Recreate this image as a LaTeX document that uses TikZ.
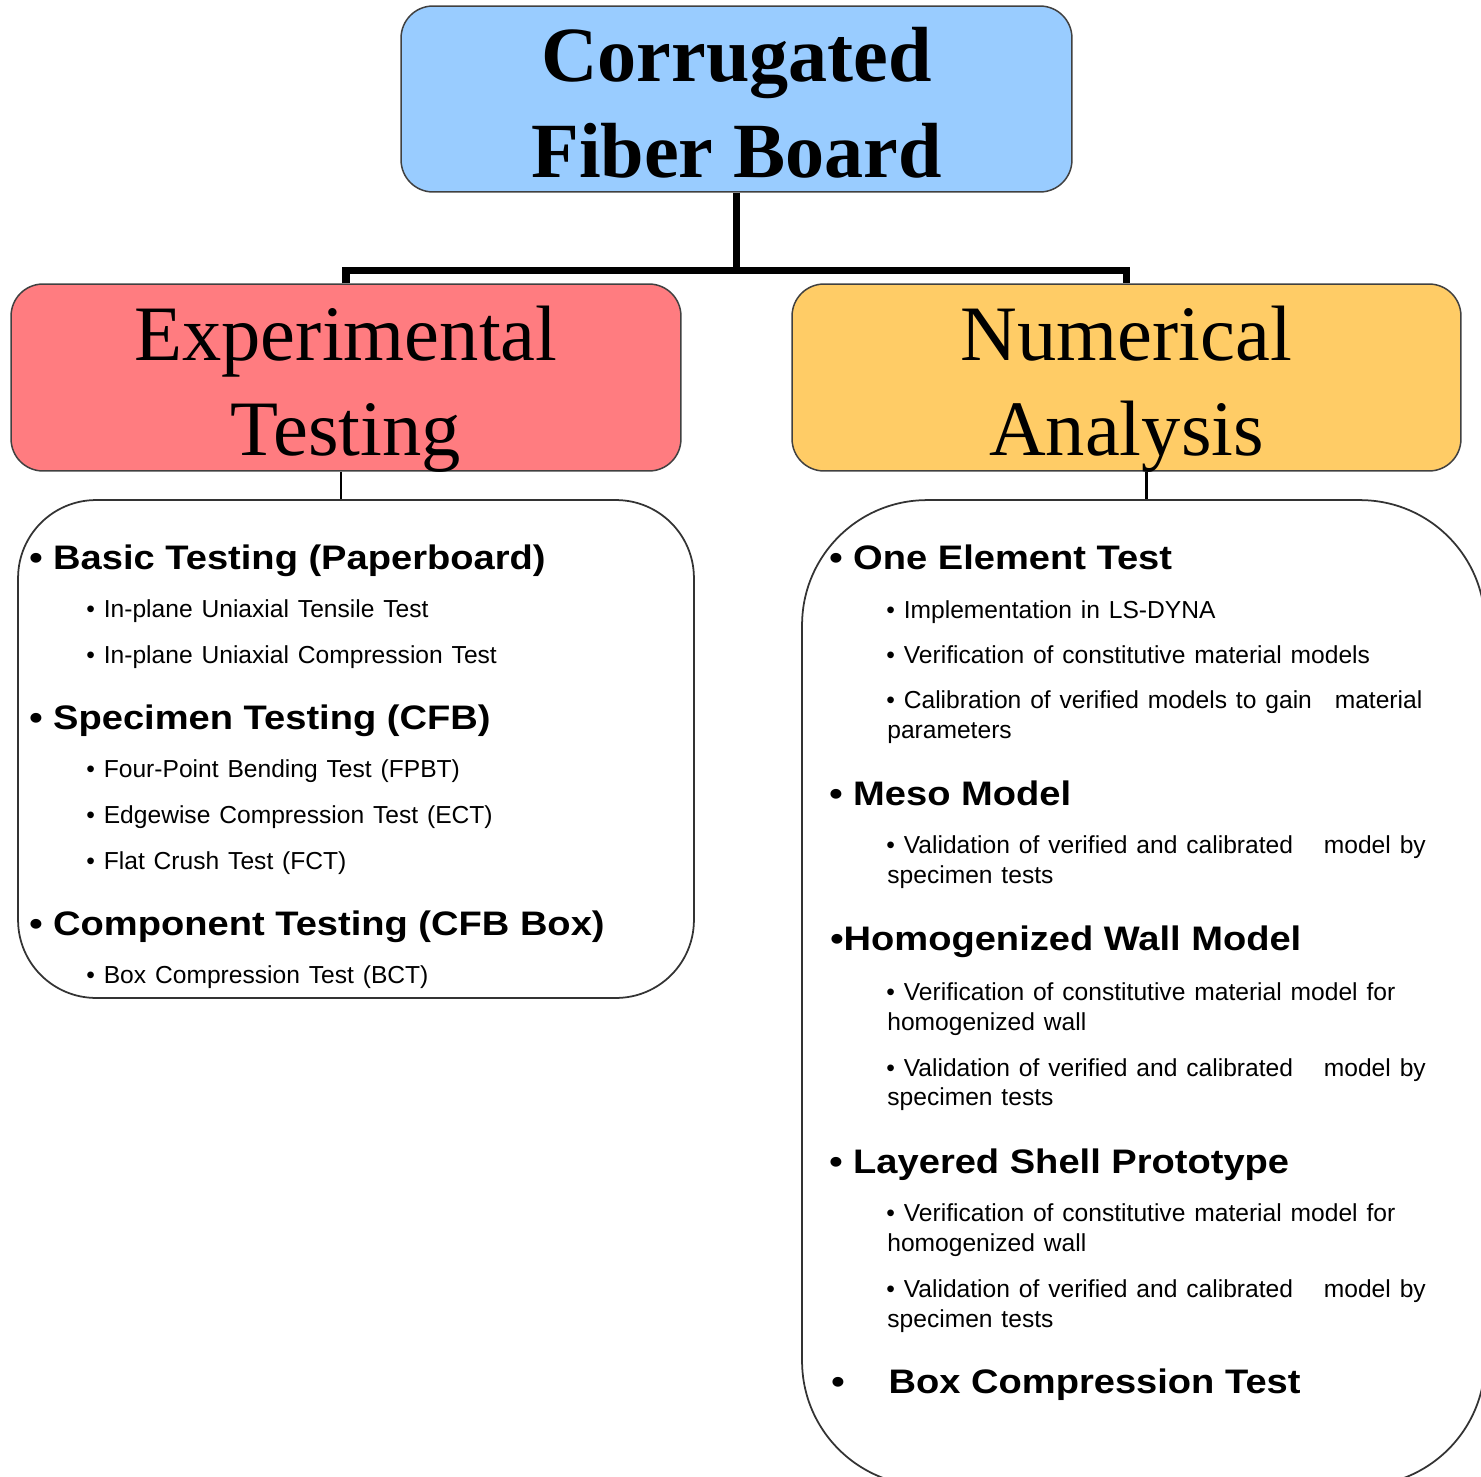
\documentclass[tikz,border=0pt]{standalone}
\usepackage{fontspec}
\setmainfont{Liberation Serif}
\newfontfamily\headfont{Liberation Sans}[FakeStretch=1.12]
\newfontfamily\itemfont{Liberation Sans}[WordSpace=1.3]

\definecolor{titleblue}{HTML}{99CCFF}
\definecolor{exppink}{HTML}{FF7C80}
\definecolor{numgold}{HTML}{FFCC66}

\tikzset{
  topbox/.style={draw=black!75, line width=0.85pt, rounded corners=0.64cm,
    minimum width=13.4cm, minimum height=3.74cm, inner sep=0},
  listbox/.style={draw=black!80, line width=1pt, fill=white, inner sep=0},
  toptext/.style={anchor=base, inner sep=0, font=\fontsize{44.7}{54}\selectfont},
  head/.style={anchor=base west, inner sep=0,
    font=\headfont\bfseries\fontsize{19.35}{23}\selectfont},
  item/.style={anchor=base west, inner sep=0, font=\itemfont\fontsize{14}{17}\selectfont},
  bus/.style={line width=4pt},
  link/.style={line width=1.4pt},
}

\begin{document}
\begin{tikzpicture}[x=0.02cm,y=-0.02cm]
  \useasboundingbox (0,0) rectangle (1481,1477);
  \clip (0,0) rectangle (1481,1477);
  % Title
  \node[topbox, fill=titleblue, minimum width=13.42cm, minimum height=3.72cm] (cfb) at (736.5,99) {};
  \node[toptext, font=\bfseries\fontsize{44.5}{54}\selectfont] (cfb1) at (736.5,82) {Corrugated};
  \node[toptext, font=\bfseries\fontsize{44.5}{54}\selectfont] (cfb2) at (736.5,177) {Fiber Board};
  % Branches
  \node[topbox, fill=exppink] (exp) at (346,377.5) {};
  \node[toptext] (exp1) at (346,360) {Experimental};
  \node[toptext] (exp2) at (346,455) {Testing};
  \node[topbox, fill=numgold, minimum width=13.38cm] (num) at (1126.5,377.5) {};
  \node[toptext] (num1) at (1126.5,360) {Numerical};
  \node[toptext] (num2) at (1126.5,455) {Analysis};
  \path (cfb.south) ++(0,78) coordinate (split);
  \draw[bus] (cfb.south) -- (split);
  \draw[bus] (exp.north) |- (split) -| (num.north);
  % Lists
  \node[listbox, rounded corners=1.56cm, minimum width=13.52cm, minimum height=9.96cm] (lbox) at (356,749) {};
  \node[listbox, rounded corners=2.5cm, minimum width=13.66cm, minimum height=19.72cm] (rbox) at (1143.5,993) {};
  \path ([xshift=-0.1cm]exp.south) coordinate (expfoot);
  \draw[link] (expfoot) -- (expfoot |- lbox.north);
  \path ([xshift=0.4cm]num.south) coordinate (numfoot);
  \draw[link] (numfoot) -- (numfoot |- rbox.north);
  % Experimental testing
  \node[head] (bas) at (29,569) {• Basic Testing (Paperboard)};
  \node[item] (bas1) at (86,617.7) {• In-plane Uniaxial Tensile Test};
  \node[item] (bas2) at (86,663) {• In-plane Uniaxial Compression Test};
  \node[head] (spc) at (29,729) {• Specimen Testing (CFB)};
  \node[item] (spc1) at (86,777) {• Four-Point Bending Test (FPBT)};
  \node[item] (spc2) at (86,823) {• Edgewise Compression Test (ECT)};
  \node[item] (spc3) at (86,869) {• Flat Crush Test (FCT)};
  \node[head] (cmp) at (29,935) {• Component Testing (CFB Box)};
  \node[item] (cmp1) at (86,983) {• Box Compression Test (BCT)};
  % Numerical analysis
  \node[head] (one) at (829,569) {• One Element Test};
  \node[item] (one1) at (886,618) {• Implementation in LS-DYNA};
  \node[item] (one2) at (886,663) {• Verification of constitutive material models};
  \node[item] (one3) at (886,708) {• Calibration of verified models to gain\hspace{0.28cm} material};
  \node[item] (one4) at (887,738) {parameters};
  \node[head] (meso) at (829,805) {• Meso Model};
  \node[item] (meso1) at (886,853) {• Validation of verified and calibrated\hspace{0.44cm} model by};
  \node[item] (meso2) at (887,883) {specimen tests};
  \node[head] (hom) at (830,950) {•Homogenized Wall Model};
  \node[item] (hom1) at (886,1000) {• Verification of constitutive material model for};
  \node[item] (hom2) at (887,1030) {homogenized wall};
  \node[item] (hom3) at (886,1076) {• Validation of verified and calibrated\hspace{0.44cm} model by};
  \node[item] (hom4) at (887,1105) {specimen tests};
  \node[head] (lay) at (829,1173) {• Layered Shell Prototype};
  \node[item] (lay1) at (886,1221) {• Verification of constitutive material model for};
  \node[item] (lay2) at (887,1251) {homogenized wall};
  \node[item] (lay3) at (886,1297) {• Validation of verified and calibrated\hspace{0.44cm} model by};
  \node[item] (lay4) at (887,1327) {specimen tests};
  \node[head] (box) at (831,1393) {•\hspace{0.88cm}Box Compression Test};
\end{tikzpicture}
\end{document}
